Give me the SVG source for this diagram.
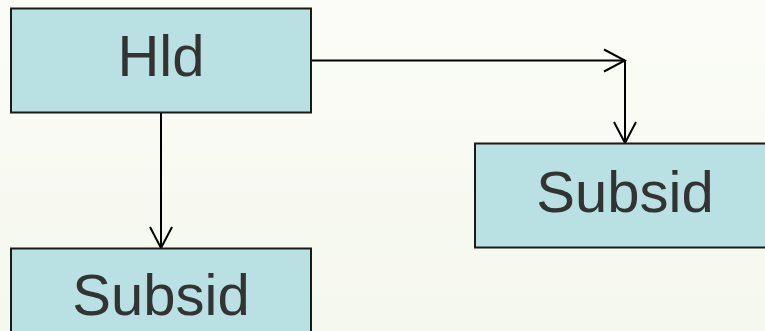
<svg xmlns="http://www.w3.org/2000/svg" width="765" height="331" viewBox="0 0 765 331">
<defs>
<linearGradient id="bg" x1="0" y1="0" x2="0" y2="1">
<stop offset="0" stop-color="#fbfcf7"/>
<stop offset="1" stop-color="#f5f8ee"/>
</linearGradient>
<marker id="arr" viewBox="-24 -13 26 26" markerWidth="26" markerHeight="26" refX="0" refY="0" orient="auto" markerUnits="userSpaceOnUse">
<path d="M-21,-11 L0,0 L-21,11" fill="none" stroke="#000" stroke-width="2"/>
</marker>
<style>
.box{fill:#b9e0e3;stroke:#1a1a1a;stroke-width:2}
.lbl{font-family:"Liberation Sans",Arial,sans-serif;font-size:58px;fill:#333333;text-anchor:middle}
.con{fill:none;stroke:#000;stroke-width:2}
</style>
</defs>
<rect width="765" height="331" fill="url(#bg)"/>
<g id="connectors">
<path class="con" d="M311,60.5 H625" marker-end="url(#arr)"/>
<path class="con" d="M625,60.5 V143" marker-end="url(#arr)"/>
<path class="con" d="M161,113 V248" marker-end="url(#arr)"/>
</g>
<g id="hld">
<rect class="box" x="11" y="8.5" width="300" height="104"/>
<text class="lbl" x="161" y="76">Hld</text>
</g>
<g id="subsid-right">
<rect class="box" x="475" y="143.5" width="300" height="104"/>
<text class="lbl" x="625" y="212">Subsid</text>
</g>
<g id="subsid-bottom">
<rect class="box" x="11" y="248.5" width="300" height="104"/>
<text class="lbl" x="161" y="315">Subsid</text>
</g>
</svg>
